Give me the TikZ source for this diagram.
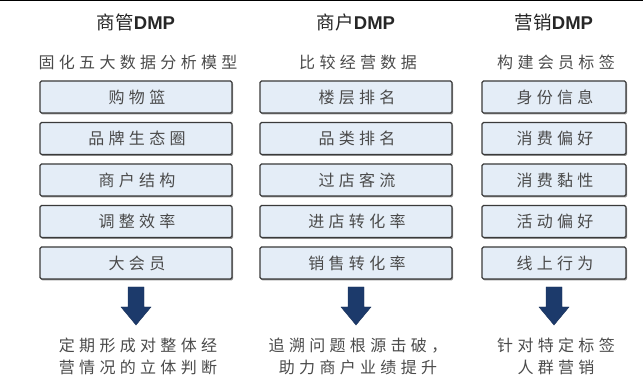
\documentclass[tikz,border=0pt]{standalone}
\usepackage{fontspec}
\setmainfont{Liberation Sans}
\newfontfamily\cjk{Noto Sans CJK SC}
\newfontfamily\cjksp{Noto Sans CJK SC}[LetterSpace=27]
\usetikzlibrary{shadows,calc}
\definecolor{boxfill}{HTML}{E4EDF7}
\definecolor{boxline}{HTML}{3A3A3A}
\definecolor{txt}{HTML}{4A4A4A}
\definecolor{navy}{HTML}{1C3A6B}
\begin{document}
\begin{tikzpicture}[x=1pt,y=-1pt,
  itembox/.style={draw=boxline,line width=1.1pt,fill=boxfill,rounded corners=1.5pt,
    minimum height=32pt,inner sep=0pt,font=\cjksp\fontsize{16}{16}\selectfont,text=txt,
    drop shadow={shadow xshift=1.2pt,shadow yshift=-1.5pt,opacity=0.6,fill=black!70}},
  title/.style={font=\fontsize{18.5}{18.5}\selectfont,text=black!85},
  subtitle/.style={font=\cjksp\fontsize{16}{16}\selectfont,text=txt},
  bottomtxt/.style={font=\cjksp\fontsize{16}{22}\selectfont,text=txt,align=center},
  downarrow/.style={fill=navy,draw=navy!80!black,line width=0.4pt}
]
\useasboundingbox (0,0) rectangle (643,387);
\draw[line width=1.5pt] (0,0.5) -- (643,0.5);

% titles
\node[title] (t1) at (136,22) {{\cjk 商管}\textbf{DMP}};
\node[title] (t2) at (356,22) {{\cjk 商户}\textbf{DMP}};
\node[title] (t3) at (554,22) {{\cjk 营销}\textbf{DMP}};

\node[subtitle] (s1) at (138,62) {固化五大数据分析模型};
\node[subtitle] (s2) at (358,62) {比较经营数据};
\node[subtitle] (s3) at (556,62) {构建会员标签};

% column 1
\foreach \i/\t in {1/购物篮,2/品牌生态圈,3/商户结构,4/调整效率,5/大会员}{
  \node[itembox,minimum width=192pt] (a\i) at (136,{97+(\i-1)*41.5}) {\hspace{2pt}\t};
}
% column 2
\foreach \i/\t in {1/楼层排名,2/品类排名,3/过店客流,4/进店转化率,5/销售转化率}{
  \node[itembox,minimum width=192pt] (b\i) at (356,{97+(\i-1)*41.5}) {\hspace{2pt}\t};
}
% column 3
\foreach \i/\t in {1/身份信息,2/消费偏好,3/消费黏性,4/活动偏好,5/线上行为}{
  \node[itembox,minimum width=144pt] (c\i) at (554,{97+(\i-1)*41.5}) {\hspace{2pt}\t};
}

% arrows
\foreach \c/\x in {1/136,2/356,3/554}{
  \coordinate (ar\c) at (\x,287);
  \draw[downarrow] ($(ar\c)+(-8,0)$) -- ++(16,0) -- ++(0,20) -- ++(7,0) -- ($(ar\c)+(0,38)$) -- ($(ar\c)+(-15,20)$) -- ++(7,0) -- cycle;
}

\node[bottomtxt] (e1) at (138,356) {定期形成对整体经\\营情况的立体判断};
\node[bottomtxt] (e2) at (358,356) {追溯问题根源击破，\\助力商户业绩提升};
\node[bottomtxt] (e3) at (556,356) {针对特定标签\\人群营销};
\end{tikzpicture}
\end{document}
